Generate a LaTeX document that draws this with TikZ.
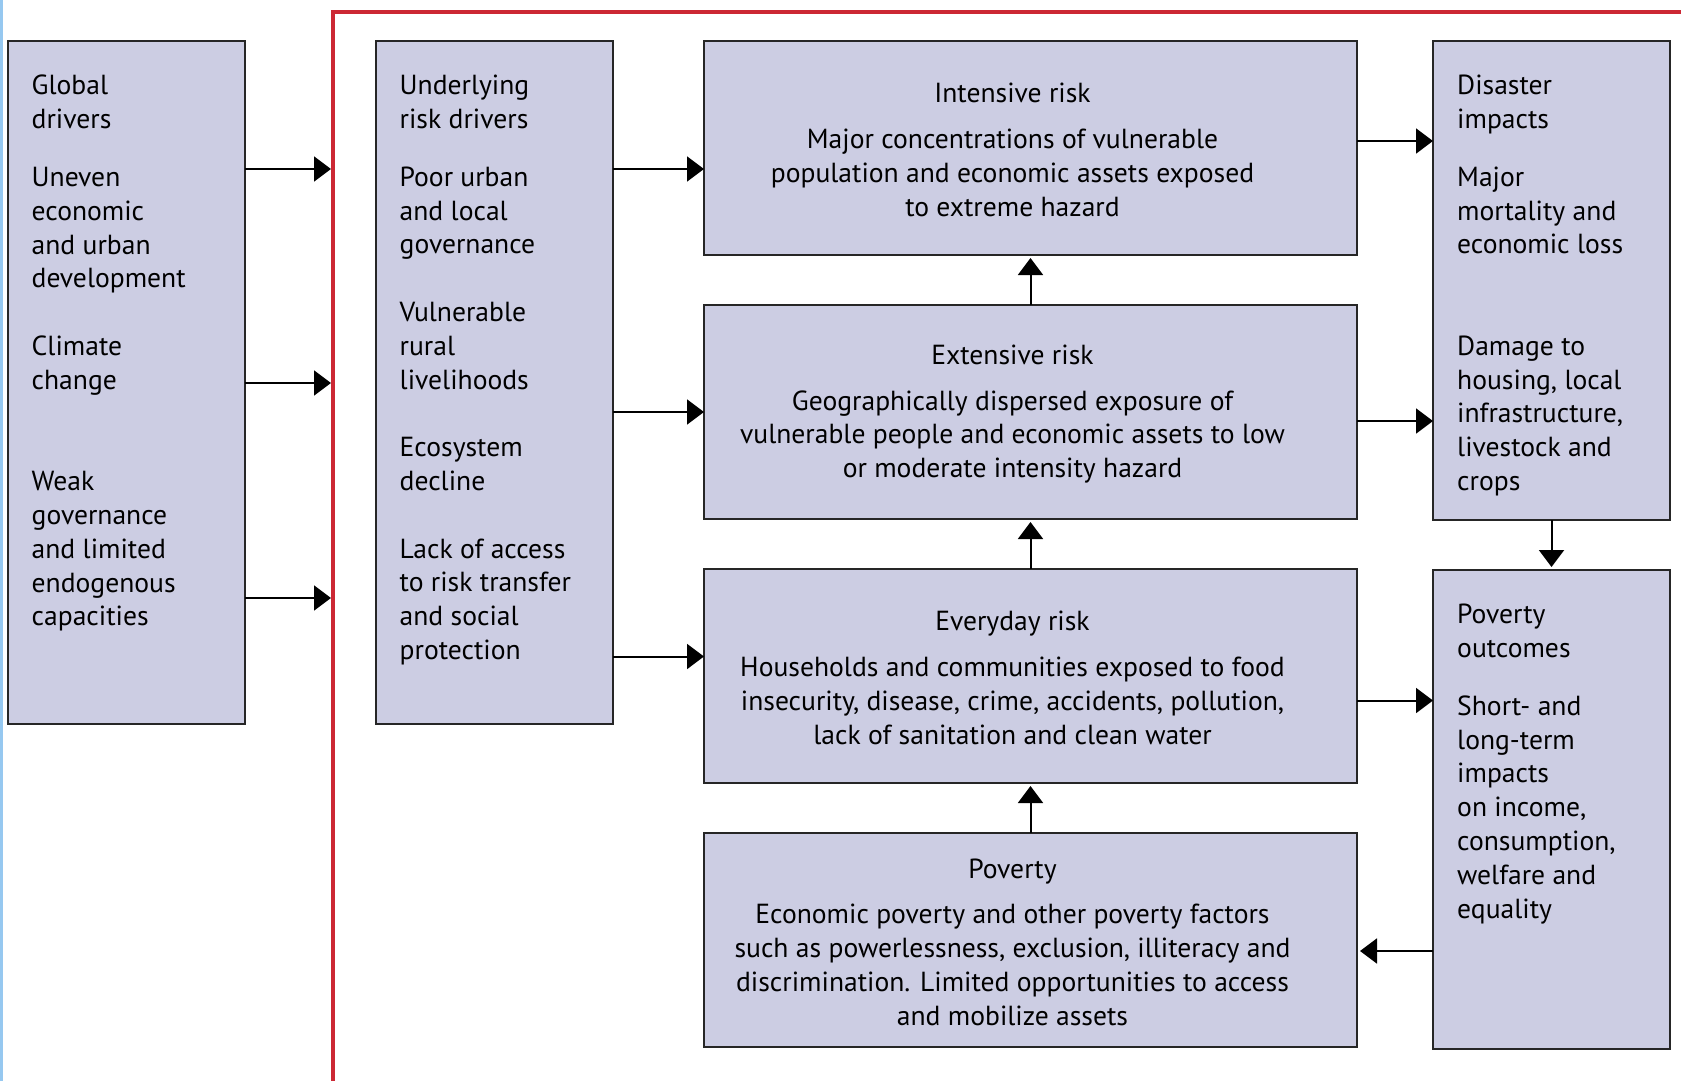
\documentclass[tikz,border=0pt]{standalone}
\usepackage{fontspec}
\setmainfont{PT Sans}
\usetikzlibrary{arrows.meta,positioning}
\definecolor{boxfill}{RGB}{204,205,227}
\definecolor{framered}{RGB}{204,40,52}
\definecolor{edgeblue}{RGB}{150,200,240}
\begin{document}
\begin{tikzpicture}[x=1pt, y=-1pt, font=\fontsize{27.6}{33.8}\selectfont,
  >={Triangle[length=17pt, width=25pt]}, node distance=50pt and 131pt,
  side/.style={draw=black!85, line width=2pt, fill=boxfill, outer sep=0pt, minimum width=237pt, minimum height=683pt},
  risk/.style={draw=black!85, line width=2pt, fill=boxfill, outer sep=0pt, minimum width=653pt, minimum height=214pt},
  sidetext/.style={anchor=north west, align=left, inner sep=0pt},
  risktext/.style={align=center, inner sep=0pt},
  arrow/.style={->, line width=2pt}]
  \useasboundingbox (0,0) rectangle (1681,1081);
  \fill[edgeblue] (0,0) rectangle (2.5,1081);
  \draw[framered, line width=3.5pt] (1681,12) -- (333,12) -- (333,1081);

  % boxes
  \node[side] (glob) at (126,382.5) {};
  \node[side, right=of glob] (under) {};
  \node[risk, anchor=north west] (inten) at (704,41) {};
  \node[risk, below=of inten] (exten) {};
  \node[risk, below=of exten] (every) {};
  \node[risk, below=of every] (pov) {};
  \node[side, minimum height=479pt, anchor=north west] (disas) at (1433,41) {};
  \node[side, minimum height=479pt, below=of disas] (outc) {};

  % texts
  \node[sidetext] (globtxt) at ([shift={(24pt,-34pt)}]glob.north west) {Global\\drivers\\[24pt]Uneven\\economic\\and urban\\development\\[33.8pt]Climate\\change\\[67.6pt]Weak\\governance\\and limited\\endogenous\\capacities};
  \node[sidetext] (undertxt) at ([shift={(24pt,-34pt)}]under.north west) {Underlying\\risk drivers\\[24pt]Poor urban\\and local\\governance\\[33.8pt]Vulnerable\\rural\\livelihoods\\[33.8pt]Ecosystem\\decline\\[33.8pt]Lack of access\\to risk transfer\\and social\\protection};
  \node[sidetext] (disastxt) at ([shift={(24pt,-34pt)}]disas.north west) {Disaster\\impacts\\[24pt]Major\\mortality and\\economic loss\\[67.6pt]Damage to\\housing, local\\infrastructure,\\livestock and\\crops};
  \node[sidetext] (outctxt) at ([shift={(24pt,-34pt)}]outc.north west) {Poverty\\outcomes\\[24pt]Short- and\\long-term\\impacts\\on income,\\consumption,\\welfare and\\equality};
  \node[risktext] (intentxt) at ([shift={(-18pt,-2pt)}]inten.center) {Intensive risk\\[12pt]Major concentrations of vulnerable\\population and economic assets exposed\\to extreme hazard};
  \node[risktext] (extentxt) at ([shift={(-18pt,-2pt)}]exten.center) {Extensive risk\\[12pt]Geographically dispersed exposure of\\vulnerable people and economic assets to low\\or moderate intensity hazard};
  \node[risktext] (everytxt) at ([shift={(-18pt,-2pt)}]every.center) {Everyday risk\\[12pt]Households and communities exposed to food\\insecurity, disease, crime, accidents, pollution,\\lack of sanitation and clean water};
  \node[risktext] (povtxt) at ([shift={(-18pt,-2pt)}]pov.center) {Poverty\\[12pt]Economic poverty and other poverty factors\\such as powerlessness, exclusion, illiteracy and\\discrimination. Limited opportunities to access\\and mobilize assets};

  % connectors
  \coordinate (in1) at (331,169);
  \coordinate (in2) at (331,383);
  \coordinate (in3) at (331,598);
  \draw[arrow] (glob.east |- in1) -- (in1);
  \draw[arrow] (glob.east |- in2) -- (in2);
  \draw[arrow] (glob.east |- in3) -- (in3);
  \draw[arrow] (under.east |- in1) -- (inten.west |- in1);
  \draw[arrow] (under.east |- exten.west) -- (exten.west);
  \coordinate (e3) at ([yshift=19.5pt]every.west);
  \draw[arrow] (under.east |- e3) -- (e3);
  \coordinate (d1) at ([yshift=7pt]inten.east);
  \draw[arrow] (d1) -- (disas.west |- d1);
  \coordinate (d2) at ([yshift=-9pt]exten.east);
  \draw[arrow] (d2) -- (disas.west |- d2);
  \coordinate (o1) at ([yshift=-24.5pt]every.east);
  \draw[arrow] (o1) -- (outc.west |- o1);
  \coordinate (p1) at ([yshift=-11pt]pov.east);
  \draw[arrow, shorten >=3pt] (outc.west |- p1) -- (p1);
  \draw[arrow, shorten >=3pt] (disas.south) -- (outc.north);
  \draw[arrow, shorten >=3pt] (exten.north) -- (inten.south);
  \draw[arrow, shorten >=3pt] (every.north) -- (exten.south);
  \draw[arrow, shorten >=3pt] (pov.north) -- (every.south);
\end{tikzpicture}
\end{document}
